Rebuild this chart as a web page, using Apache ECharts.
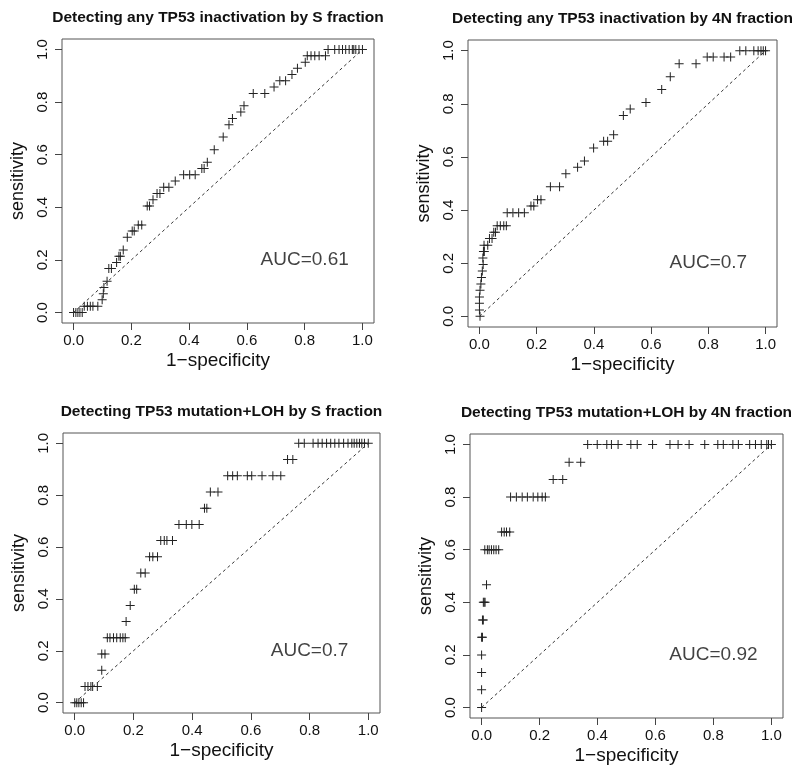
<!DOCTYPE html>
<html>
<head>
<meta charset="utf-8">
<script src="https://cdn.jsdelivr.net/npm/echarts@6/dist/echarts.min.js"></script>
<style>html,body{margin:0;padding:0;background:#fff}#c{width:800px;height:772px}</style>
</head>
<body>
<div id="c"></div>
<script>
// ---------- data ----------
const titles = [
  "Detecting any TP53 inactivation by S fraction",
  "Detecting any TP53 inactivation by 4N fraction",
  "Detecting TP53 mutation+LOH by S fraction",
  "Detecting TP53 mutation+LOH by 4N fraction"
];
const aucText = ["AUC=0.61", "AUC=0.7", "AUC=0.7", "AUC=0.92"];
const aucPos = [0.8, 0.2];
const tickValues = [0, 0.2, 0.4, 0.6, 0.8, 1.0];
const diagonal = [[0, 0], [1, 1]];
const xLabel = "1\u2212specificity";
const yLabel = "sensitivity";

// Panel 1: any TP53 inactivation by S fraction
const p1Fpr = [0,0.008,0.015,0.022,0.03,
  0.037,0.048,0.058,0.067,0.084,
  0.099,0.103,0.105,0.116,0.122,0.131,
  0.149,0.157,0.162,0.172,0.186,0.203,0.210,0.224,0.236,
  0.255,0.263,0.275,0.289,0.299,0.312,0.330,0.352,0.381,0.402,0.421,
  0.444,0.452,0.463,0.487,0.518,0.538,0.550,0.579,0.590,
  0.622,0.662,0.694,0.714,0.734,0.756,0.775,0.802,
  0.809,0.822,0.835,0.850,0.872,
  0.881,0.904,0.919,0.931,0.942,0.954,0.965,0.970,0.977,0.988,1.0];
const p1Tpr = [0,0,0,0,0,
  0.024,0.024,0.024,0.024,0.024,
  0.048,0.071,0.095,0.119,0.167,0.167,
  0.190,0.214,0.214,0.238,0.286,0.310,0.310,0.333,0.333,
  0.405,0.405,0.429,0.452,0.452,0.476,0.476,0.500,0.524,0.524,0.524,
  0.548,0.548,0.571,0.619,0.667,0.714,0.738,0.762,0.786,
  0.833,0.833,0.857,0.881,0.881,0.905,0.929,0.952,
  0.976,0.976,0.976,0.976,0.976,
  1,1,1,1,1,1,1,1,1,1,1];

// Panel 2: any TP53 inactivation by 4N fraction
const p2Fpr = [0.002,0,0,0,0.002,0.005,0.007,0.010,0.013,0.012,
  0.014,0.017,0.016,0.029,0.035,0.044,0.050,0.056,
  0.062,0.073,0.085,0.094,0.097,0.117,0.137,0.157,
  0.180,0.190,0.203,0.215,0.248,0.280,0.302,0.343,0.367,0.399,
  0.434,0.448,0.469,0.503,0.527,0.582,0.637,0.667,0.698,0.757,
  0.796,0.817,0.855,0.878,0.910,0.931,0.959,0.974,0.984,0.992,1.0];
const p2Tpr = [0,0.024,0.049,0.073,0.098,0.122,0.146,0.171,0.195,0.220,
  0.244,0.244,0.268,0.268,0.293,0.293,0.317,0.317,
  0.341,0.341,0.341,0.341,0.390,0.390,0.390,0.390,
  0.415,0.415,0.439,0.439,0.488,0.488,0.537,0.561,0.585,0.634,
  0.659,0.659,0.683,0.756,0.780,0.805,0.854,0.902,0.951,0.951,
  0.976,0.976,0.976,0.976,1,1,1,1,1,1,1];

// Panel 3: TP53 mutation+LOH by S fraction
const p3Fpr = [0,0.007,0.014,0.022,0.030,
  0.035,0.045,0.055,0.061,0.077,
  0.092,0.092,0.103,
  0.111,0.120,0.132,0.143,0.155,0.164,0.172,
  0.175,0.189,0.203,0.211,0.225,0.240,
  0.255,0.266,0.282,0.293,0.305,0.314,0.333,
  0.355,0.380,0.399,0.424,0.442,0.450,0.462,0.488,
  0.521,0.538,0.554,0.588,0.603,0.638,0.675,0.702,
  0.725,0.743,
  0.763,0.782,0.812,0.829,0.843,0.858,0.872,0.886,0.900,0.916,0.931,0.944,0.952,0.961,0.970,0.978,0.987,1.0];
const p3Tpr = [0,0,0,0,0,
  0.0625,0.0625,0.0625,0.0625,0.0625,
  0.125,0.1875,0.1875,
  0.25,0.25,0.25,0.25,0.25,0.25,0.25,
  0.3125,0.375,0.4375,0.4375,0.5,0.5,
  0.5625,0.5625,0.5625,0.625,0.625,0.625,0.625,
  0.6875,0.6875,0.6875,0.6875,0.75,0.75,0.8125,0.8125,
  0.875,0.875,0.875,0.875,0.875,0.875,0.875,0.875,
  0.9375,0.9375,
  1,1,1,1,1,1,1,1,1,1,1,1,1,1,1,1,1,1];

// Panel 4: TP53 mutation+LOH by 4N fraction
const p4Fpr = [0,0,0,0,0,0.003,0.003,0.006,0.006,0.009,0.012,0.017,
  0.011,0.020,0.026,0.034,0.042,0.050,0.059,
  0.069,0.078,0.086,0.097,
  0.100,0.120,0.140,0.158,0.178,0.194,0.209,0.220,
  0.247,0.280,0.302,0.342,
  0.366,0.399,0.432,0.448,0.471,0.515,0.537,0.590,0.650,0.678,0.716,0.770,
  0.815,0.834,0.867,0.886,0.925,0.945,0.965,0.984,0.990,1.0];
const p4Tpr = [0,0.067,0.133,0.2,0.267,0.267,0.333,0.333,0.4,0.4,0.4,0.467,
  0.6,0.6,0.6,0.6,0.6,0.6,0.6,
  0.667,0.667,0.667,0.667,
  0.8,0.8,0.8,0.8,0.8,0.8,0.8,0.8,
  0.867,0.867,0.933,0.933,
  1,1,1,1,1,1,1,1,1,1,1,1,
  1,1,1,1,1,1,1,1,1,1];

const panels = [[p1Fpr, p1Tpr], [p2Fpr, p2Tpr], [p3Fpr, p3Tpr], [p4Fpr, p4Tpr]];

// ---------- layout ----------
const boxes = [
  {left: 62, top: 39, width: 312, height: 284},
  {left: 468, top: 40, width: 309, height: 287},
  {left: 63, top: 433, width: 317, height: 280},
  {left: 470, top: 434, width: 313, height: 284}
];
const FONT = "'Liberation Sans', Arial, Helvetica, sans-serif";
const plus = 'path://M4,0H5V9H4Z M0,4H9V5H0Z';

const option = {
  animation: false,
  backgroundColor: '#fff',
  title: [], grid: [], xAxis: [], yAxis: [], series: []
};

boxes.forEach((b, i) => {
  option.title.push({
    text: titles[i],
    left: b.left + b.width / 2,
    top: b.top - 29,
    padding: 0,
    textAlign: 'center',
    textStyle: {fontFamily: FONT, fontSize: 15.5, fontWeight: 'bold', color: '#111'}
  });
  option.grid.push({
    left: b.left, top: b.top, width: b.width, height: b.height,
    show: true, borderColor: '#555', borderWidth: 1, backgroundColor: 'transparent',
    containLabel: false
  });
  const axisCommon = {
    type: 'value', gridIndex: i, min: -0.04, max: 1.04,
    axisLine: {show: false, onZero: false},
    splitLine: {show: false},
    axisTick: {show: true, inside: false, length: 7, customValues: tickValues,
      lineStyle: {color: '#444', width: 1}},
    nameLocation: 'middle',
    nameTextStyle: {fontFamily: FONT, fontSize: 19, color: '#111'}
  };
  option.xAxis.push(Object.assign({}, axisCommon, {
    name: xLabel, nameGap: 28,
    axisLabel: {customValues: tickValues, margin: 10, fontFamily: FONT, fontSize: 15, color: '#111',
      formatter: v => v.toFixed(1)}
  }));
  option.yAxis.push(Object.assign({}, axisCommon, {
    name: yLabel, nameGap: 35,
    nameTextStyle: {fontFamily: FONT, fontSize: 18, color: '#111'},
    axisLabel: {customValues: tickValues, margin: 12, rotate: 90, fontFamily: FONT, fontSize: 15, color: '#111',
      formatter: v => v.toFixed(1)}
  }));
  option.series.push({
    type: 'line', xAxisIndex: i, yAxisIndex: i,
    data: diagonal, symbol: 'none', silent: true,
    lineStyle: {color: '#333', width: 1, type: [3, 3]}
  });
  option.series.push({
    type: 'scatter', xAxisIndex: i, yAxisIndex: i,
    data: panels[i][0].map((x, k) => [x, panels[i][1][k]]),
    symbol: plus, symbolSize: 9,
    itemStyle: {color: '#222', opacity: 1}
  });
  option.series.push({
    type: 'scatter', xAxisIndex: i, yAxisIndex: i,
    data: [aucPos], symbolSize: 1, itemStyle: {color: 'rgba(0,0,0,0)'},
    label: {show: true, position: 'inside', formatter: aucText[i],
      fontFamily: FONT, fontSize: 19, color: '#111'}
  });
});

const chart = echarts.init(document.getElementById('c'), null, {renderer: 'canvas'});
chart.setOption(option);
</script>
</body>
</html>
